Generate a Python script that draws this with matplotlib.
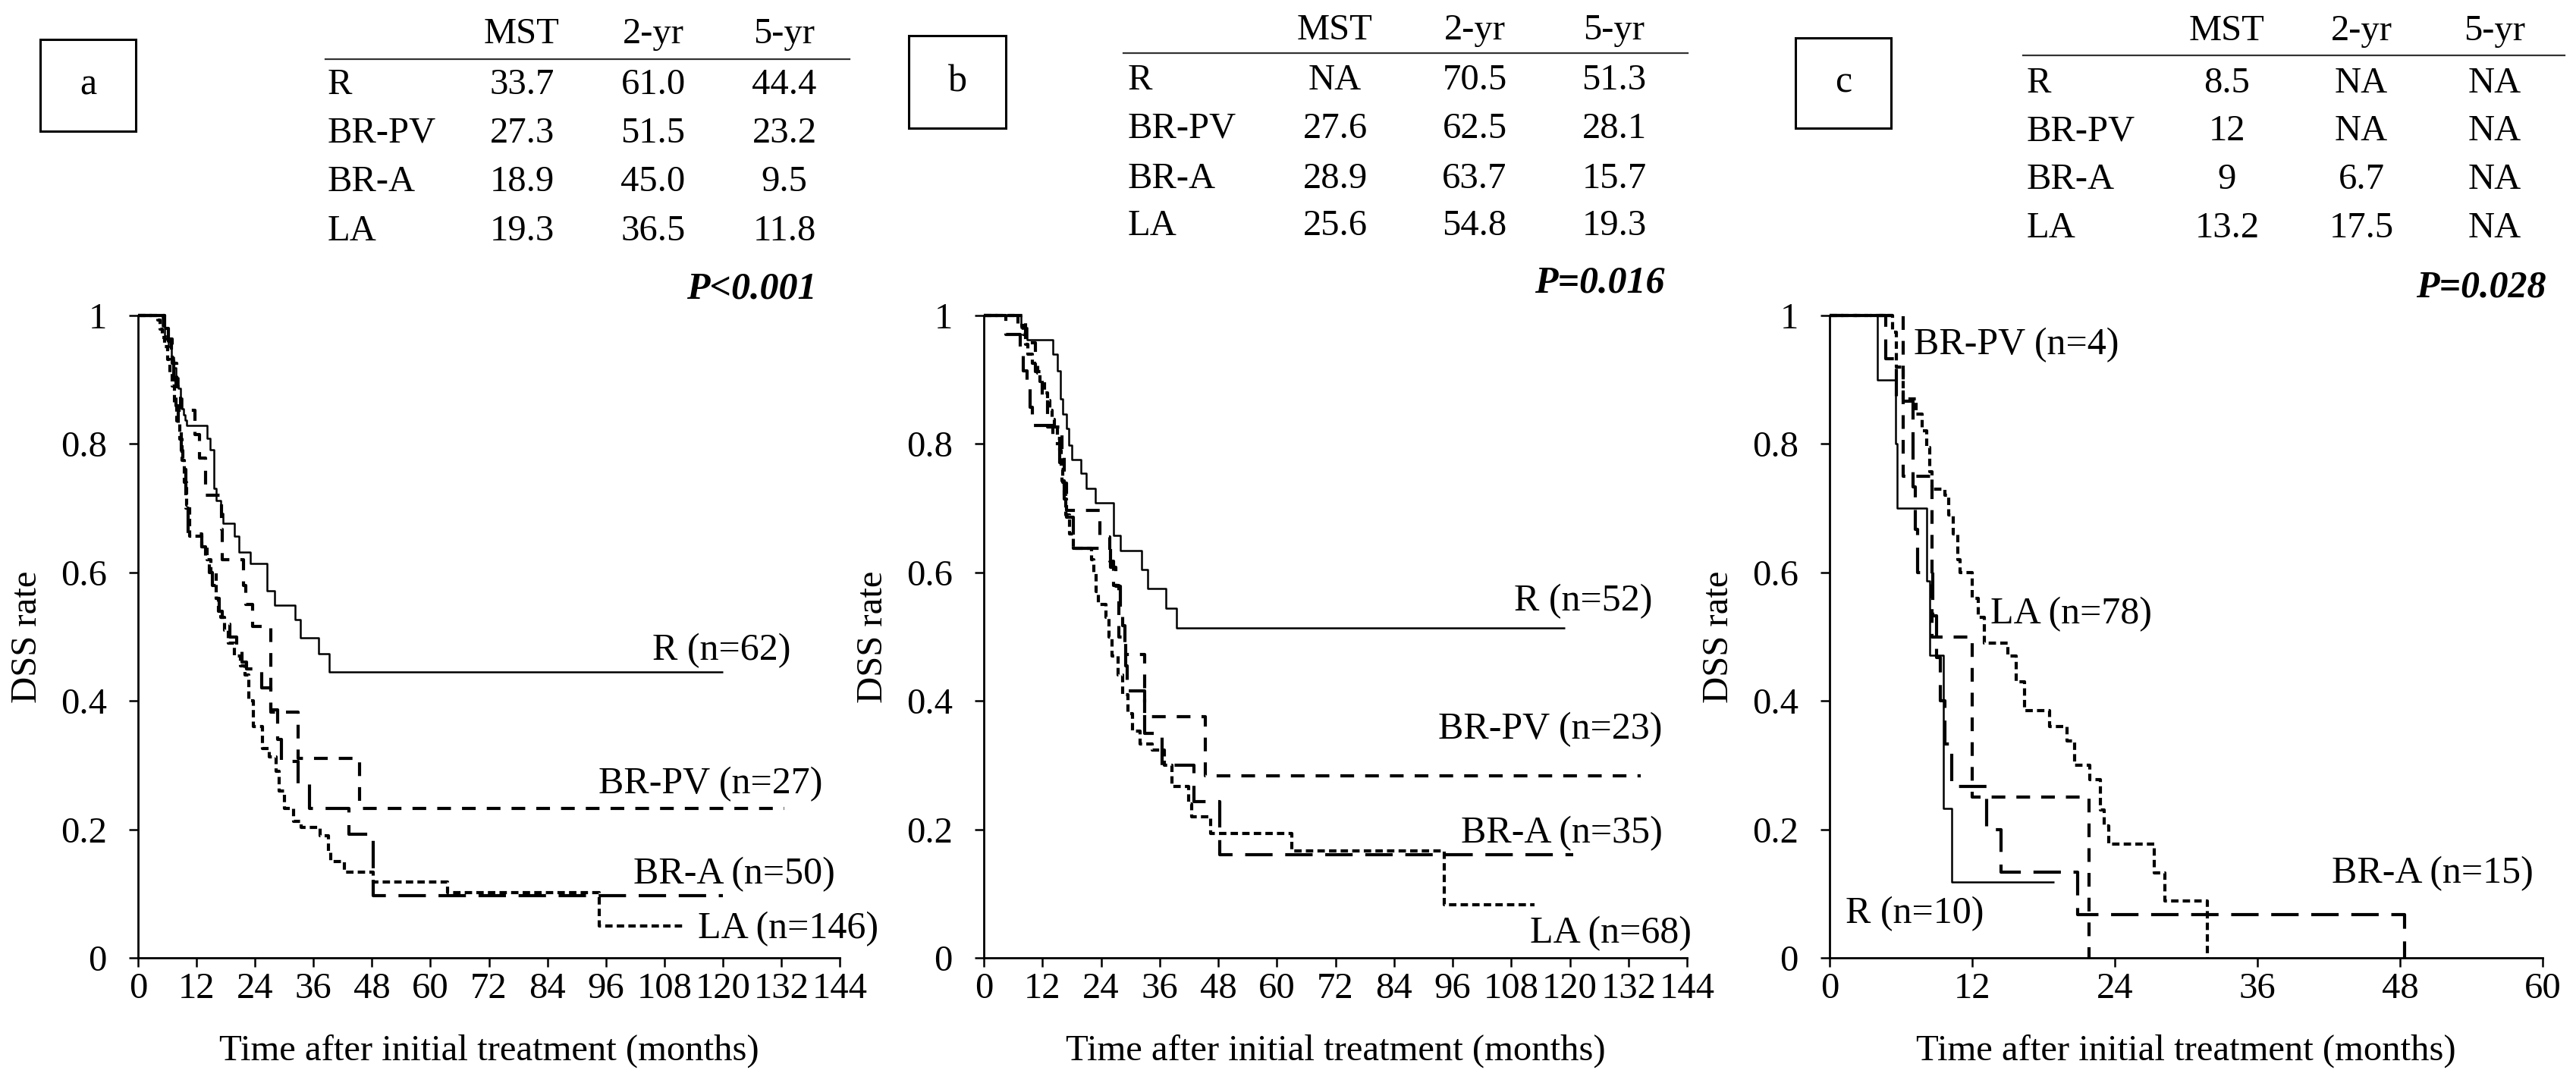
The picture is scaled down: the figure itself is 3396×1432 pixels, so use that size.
import matplotlib
matplotlib.use('Agg')
import matplotlib.pyplot as plt
from matplotlib.patches import Rectangle
from matplotlib.lines import Line2D

plt.rcParams['font.family'] = ['Liberation Serif', 'DejaVu Serif']
plt.rcParams['lines.scale_dashes'] = False

# ---------------- data ----------------
groups = ['R', 'BR-PV', 'BR-A', 'LA']
table_cols = ['MST', '2-yr', '5-yr']

a_table = [['33.7', '61.0', '44.4'],
           ['27.3', '51.5', '23.2'],
           ['18.9', '45.0', '9.5'],
           ['19.3', '36.5', '11.8']]
b_table = [['NA', '70.5', '51.3'],
           ['27.6', '62.5', '28.1'],
           ['28.9', '63.7', '15.7'],
           ['25.6', '54.8', '19.3']]
c_table = [['8.5', 'NA', 'NA'],
           ['12', 'NA', 'NA'],
           ['9', '6.7', 'NA'],
           ['13.2', '17.5', 'NA']]
p_values = ['P<0.001', 'P=0.016', 'P=0.028']
panel_letters = ['a', 'b', 'c']

a_labels = ['R (n=62)', 'BR-PV (n=27)', 'BR-A (n=50)', 'LA (n=146)']
b_labels = ['R (n=52)', 'BR-PV (n=23)', 'BR-A (n=35)', 'LA (n=68)']
c_labels = ['R (n=10)', 'BR-PV (n=4)', 'BR-A (n=15)', 'LA (n=78)']

# panel a survival steps
a_R_t = [0, 5, 5.5, 6.2, 6.8, 7.3, 7.8, 8.3, 8.7, 9.0, 9.3, 9.6, 10, 14.1, 14.75, 15.6, 16.1,
         16.9, 17.5, 19.8, 20.7, 23.0, 26.5, 28.0, 32.3, 33.3, 37.1, 39.3, 120]
a_R_s = [1, 0.984, 0.968, 0.952, 0.935, 0.919, 0.903, 0.887, 0.871, 0.855, 0.845, 0.837, 0.829,
         0.809, 0.791, 0.731, 0.712, 0.692, 0.676, 0.656, 0.632, 0.614, 0.571, 0.549, 0.526,
         0.498, 0.473, 0.445, 0.445]
a_PV_t = [0, 5.5, 7, 8, 8.7, 11.7, 12.6, 13.8, 17.1, 17.3, 21.7, 22.1, 23.5, 27.3, 32.9, 45.4, 132.7]
a_PV_s = [1, 0.963, 0.926, 0.889, 0.852, 0.815, 0.778, 0.72, 0.667, 0.62, 0.58, 0.55, 0.516,
          0.383, 0.31, 0.233, 0.233]
a_A_t = [0, 5.5, 6.2, 6.8, 7.3, 7.8, 8.3, 8.8, 9.2, 9.8, 10.3, 13.0, 13.9, 14.6, 15.2, 16.0,
         16.6, 17.3, 18.9, 20.2, 21.4, 22.3, 25.4, 27.3, 28.6, 29.4, 32.9, 35.2, 43.2, 48.3, 120]
a_A_s = [1, 0.98, 0.96, 0.94, 0.90, 0.86, 0.82, 0.79, 0.76, 0.70, 0.66, 0.64, 0.62, 0.60, 0.58,
         0.56, 0.54, 0.52, 0.50, 0.48, 0.46, 0.45, 0.42, 0.386, 0.34, 0.306, 0.27, 0.232, 0.193,
         0.097, 0.097]
a_LA_t = [0, 4, 4.5, 5, 5.5, 6, 6.5, 7, 7.5, 8, 8.5, 9, 9.5, 10, 10.6, 13, 14.2, 15, 16, 16.5,
          17, 17.8, 18.5, 19.7, 21, 22, 22.8, 23.6, 25.5, 27, 28.3, 29, 30, 31.9, 33.5, 37.4,
          39, 39.5, 42.4, 48.2, 63.5, 94.6, 112]
a_LA_s = [1, 0.993, 0.979, 0.966, 0.952, 0.932, 0.911, 0.89, 0.863, 0.836, 0.808, 0.774, 0.74,
          0.705, 0.656, 0.64, 0.62, 0.60, 0.56, 0.54, 0.53, 0.51, 0.49, 0.47, 0.455, 0.44, 0.40,
          0.36, 0.326, 0.313, 0.29, 0.26, 0.233, 0.213, 0.203, 0.19, 0.165, 0.15, 0.133, 0.118,
          0.101, 0.05, 0.05]

# panel b survival steps
b_R_t = [0, 7.6, 8.8, 14.1, 15.0, 15.7, 16.2, 16.9, 17.4, 18.0, 19.9, 20.9, 22.9, 26.5, 27.9,
         32.3, 33.6, 37.3, 39.5, 119]
b_R_s = [1, 0.981, 0.962, 0.94, 0.914, 0.87, 0.847, 0.824, 0.798, 0.776, 0.754, 0.731, 0.708,
         0.658, 0.634, 0.605, 0.575, 0.544, 0.514, 0.514]
b_PV_t = [0, 8.5, 10.5, 12, 13, 16, 16.5, 17, 23.8, 25.8, 26.5, 27.6, 29, 33, 45.3, 134.6]
b_PV_s = [1, 0.957, 0.913, 0.87, 0.826, 0.783, 0.739, 0.696, 0.655, 0.617, 0.58, 0.50, 0.472,
          0.376, 0.283, 0.283]
b_A_t = [0, 4.5, 7.5, 8, 8.8, 9.5, 10, 14.1, 15.5, 16, 16.5, 17, 18.3, 26, 27, 28, 28.5, 28.9,
         29.1, 29.3, 33, 36.5, 43, 48.3, 120.7]
b_A_s = [1, 0.971, 0.943, 0.914, 0.886, 0.857, 0.829, 0.80, 0.771, 0.743, 0.714, 0.686, 0.638,
         0.608, 0.578, 0.547, 0.517, 0.486, 0.455, 0.416, 0.35, 0.30, 0.243, 0.16, 0.16]
b_LA_t = [0, 7, 8, 8.5, 9, 10, 11, 11.5, 12.5, 13, 13.5, 14, 14.5, 15, 15.5, 15.8, 16.1, 16.4,
          16.8, 17.5, 18.3, 22, 22.5, 23, 23.5, 25, 25.6, 26.2, 27.5, 28.5, 29.5, 30.5, 32,
          34.5, 37, 38.5, 42, 42.5, 46.5, 63, 94.3, 112.7]
b_LA_s = [1, 0.985, 0.97, 0.955, 0.94, 0.926, 0.91, 0.897, 0.88, 0.868, 0.853, 0.838, 0.824,
          0.809, 0.79, 0.76, 0.74, 0.72, 0.69, 0.66, 0.638, 0.62, 0.60, 0.57, 0.55, 0.53, 0.50,
          0.47, 0.44, 0.41, 0.38, 0.353, 0.333, 0.323, 0.30, 0.267, 0.24, 0.22, 0.194, 0.167,
          0.083, 0.083]

# panel c survival steps
c_R_t = [0, 4.0, 5.55, 5.7, 8.2, 8.45, 9.6, 10.3, 18.9]
c_R_s = [1, 0.9, 0.8, 0.7, 0.587, 0.471, 0.233, 0.118, 0.118]
c_PV_t = [0, 6.2, 8.6, 12.0, 21.85]
c_PV_s = [1, 0.75, 0.5, 0.25, 0.0]
c_A_t = [0, 4.7, 5.6, 7.0, 7.2, 7.4, 8.7, 9.0, 9.3, 9.7, 10.3, 13.2, 14.4, 20.85, 48.4]
c_A_s = [1, 0.933, 0.867, 0.733, 0.667, 0.6, 0.533, 0.467, 0.4, 0.333, 0.267, 0.2, 0.133,
         0.067, 0.0]
c_LA_t = [0, 5.3, 5.6, 6.2, 7.3, 7.8, 8.2, 8.4, 8.6, 9.7, 10.0, 10.4, 10.8, 11.0, 12.0, 12.5,
          13.0, 15.0, 15.7, 16.4, 18.5, 20.0, 20.6, 21.9, 22.8, 23.1, 23.5, 27.3, 28.2, 31.8]
c_LA_s = [1, 0.974, 0.92, 0.87, 0.846, 0.82, 0.795, 0.757, 0.73, 0.72, 0.69, 0.66, 0.62, 0.60,
          0.56, 0.53, 0.49, 0.47, 0.43, 0.385, 0.36, 0.338, 0.30, 0.278, 0.23, 0.205, 0.177,
          0.132, 0.0885, 0.0]

y_ticks = [0, 0.2, 0.4, 0.6, 0.8, 1.0]
y_ticklabels = ['0', '0.2', '0.4', '0.6', '0.8', '1']
ab_xticks = list(range(0, 145, 12))
c_xticks = list(range(0, 61, 12))

# ---------------- layout ----------------
W, H = 3396, 1432
fig = plt.figure(figsize=(W / 100, H / 100), dpi=100)

FS = 35
styles = {
    'R': dict(lw=1.8, linestyle='-'),
    'BR-PV': dict(lw=3.0, dashes=(13, 10.5)),
    'BR-A': dict(lw=3.0, dashes=(26, 12)),
    'LA': dict(lw=3.0, dashes=(7, 4)),
}

def fx(px):
    return px / W

def fy(py):
    return 1 - py / H

AX_TOP, AX_BOT = 416, 1263

panels = [
    dict(left=182, right=1107, xmax=144, xticks=ab_xticks, table=a_table, labels=a_labels,
         curves=[(a_R_t, a_R_s), (a_PV_t, a_PV_s), (a_A_t, a_A_s), (a_LA_t, a_LA_s)],
         lab_pos=[(134, 0.478, 'right'), (140.5, 0.27, 'right'), (143, 0.13, 'right'), (152, 0.045, 'right')],
         box=(53, 52, 179, 173), header_y=45, line_y=78, rows_y=[112, 176, 240, 305],
         label_x=432, cols_x=[688, 861, 1034], line_x=(429, 1120), p=(1077, 382)),
    dict(left=1297, right=2224, xmax=144, xticks=ab_xticks, table=b_table, labels=b_labels,
         curves=[(b_R_t, b_R_s), (b_PV_t, b_PV_s), (b_A_t, b_A_s), (b_LA_t, b_LA_s)],
         lab_pos=[(137, 0.555, 'right'), (139, 0.355, 'right'), (139, 0.194, 'right'), (145, 0.038, 'right')],
         box=(1198, 47, 1326, 169), header_y=40, line_y=70, rows_y=[106, 170, 236, 298],
         label_x=1487, cols_x=[1760, 1944, 2128], line_x=(1481, 2225), p=(2195, 374)),
    dict(left=2412, right=3352, xmax=60, xticks=c_xticks, table=c_table, labels=c_labels,
         curves=[(c_R_t, c_R_s), (c_PV_t, c_PV_s), (c_A_t, c_A_s), (c_LA_t, c_LA_s)],
         lab_pos=[(1.36, 0.068, 'left'), (7.1, 0.954, 'left'), (59.2, 0.131, 'right'), (13.5, 0.535, 'left')],
         box=(2367, 50, 2493, 169), header_y=41, line_y=73, rows_y=[110, 173, 237, 301],
         label_x=2672, cols_x=[2936, 3113, 3289], line_x=(2667, 3381), p=(3357, 379)),
]

for i, P in enumerate(panels):
    ax = fig.add_axes([fx(P['left']), fy(AX_BOT), fx(P['right'] - P['left']),
                       (AX_BOT - AX_TOP) / H])
    ax.set_xlim(0, P['xmax'])
    ax.set_ylim(0, 1)
    for s in ['top', 'right']:
        ax.spines[s].set_visible(False)
    for s in ['left', 'bottom']:
        ax.spines[s].set_linewidth(2.0)
    ax.set_xticks(P['xticks'])
    ax.set_xticklabels([str(t) for t in P['xticks']])
    ax.set_yticks(y_ticks)
    ax.set_yticklabels(y_ticklabels)
    ax.tick_params(axis='both', direction='out', length=8.6, width=1.8, labelsize=FS)
    ax.tick_params(axis='x', pad=5)
    ax.tick_params(axis='y', pad=21)
    ax.patch.set_visible(False)

    for g, (t, s) in zip(groups, P['curves']):
        ax.step(t, s, where='post', color='black', clip_on=False, solid_capstyle='butt',
                dash_capstyle='butt', **styles[g])

    for lab, (lx, ly, ha) in zip(P['labels'], P['lab_pos']):
        ax.text(lx, ly, lab, ha=ha, va='center', fontsize=FS + 1, clip_on=False)

    # axis labels
    cx = (P['left'] + P['right']) / 2
    fig.text(fx(cx), fy(1386), 'Time after initial treatment (months)', ha='center',
             va='center', fontsize=FS)
    fig.text(fx(P['left'] - 146), fy((AX_TOP + AX_BOT) / 2), 'DSS rate', ha='center',
             va='center', rotation=90, fontsize=FS)

    # panel letter box
    x0, y0, x1, y1 = P['box']
    fig.patches.append(Rectangle((fx(x0), fy(y1)), fx(x1 - x0), (y1 - y0) / H,
                                 transform=fig.transFigure, fill=False, lw=2.2,
                                 edgecolor='black'))
    fig.text(fx((x0 + x1) / 2), fy((y0 + y1) / 2), panel_letters[i], ha='center',
             va='center', fontsize=FS + 1)

    # table
    for cxp, col in zip(P['cols_x'], table_cols):
        fig.text(fx(cxp), fy(P['header_y']), col, ha='center', va='center', fontsize=FS)
    fig.lines.append(Line2D([fx(P['line_x'][0]), fx(P['line_x'][1])],
                            [fy(P['line_y']), fy(P['line_y'])], transform=fig.transFigure,
                            color='#333333', lw=1.6))
    for ry, g, vals in zip(P['rows_y'], groups, P['table']):
        fig.text(fx(P['label_x']), fy(ry), g, ha='left', va='center', fontsize=FS)
        for cxp, v in zip(P['cols_x'], vals):
            fig.text(fx(cxp), fy(ry), v, ha='center', va='center', fontsize=FS)
    fig.text(fx(P['p'][0]), fy(P['p'][1]), p_values[i], ha='right', va='center',
             fontsize=FS + 1, fontweight='bold', fontstyle='italic')

fig.savefig('out.png', dpi=100, facecolor='white')
